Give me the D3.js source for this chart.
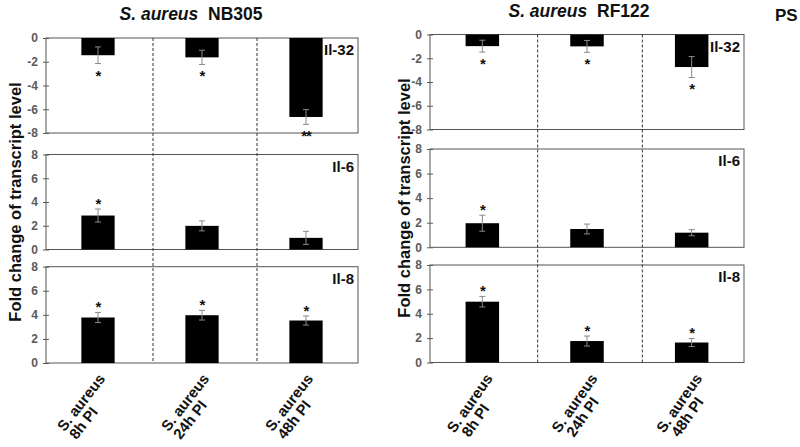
<!DOCTYPE html>
<html>
<head>
<meta charset="utf-8">
<script src="https://cdn.jsdelivr.net/npm/d3@7"></script>
<style>
  html, body { margin: 0; padding: 0; background: #fff; }
  svg { display: block; font-family: "Liberation Sans", Arial, sans-serif; }
</style>
</head>
<body>
<svg id="chart" width="800" height="447"></svg>
<script>
// ---------------- DATA ----------------
const categories = ["8h PI", "24h PI", "48h PI"];
const categoryPrefix = "S. aureus";
const strains = ["NB305", "RF122"];
const genes = ["Il-32", "Il-6", "Il-8"];
const ticksNeg = [0, -2, -4, -6, -8];
const ticksPos = [0, 2, 4, 6, 8];

const nb305_il32 = [-1.45, -1.63, -6.65];
const nb305_il32_err = [0.70, 0.60, 0.62];
const nb305_il32_sig = ["*", "*", "**"];
const nb305_il6 = [2.86, 1.99, 0.98];
const nb305_il6_err = [0.55, 0.42, 0.55];
const nb305_il6_sig = ["*", "", ""];
const nb305_il8 = [3.78, 3.97, 3.53];
const nb305_il8_err = [0.42, 0.40, 0.38];
const nb305_il8_sig = ["*", "*", "*"];

const rf122_il32 = [-0.98, -1.00, -2.74];
const rf122_il32_err = [0.50, 0.50, 0.88];
const rf122_il32_sig = ["*", "*", "*"];
const rf122_il6 = [1.96, 1.49, 1.19];
const rf122_il6_err = [0.65, 0.40, 0.25];
const rf122_il6_sig = ["*", "", ""];
const rf122_il8 = [4.99, 1.76, 1.64];
const rf122_il8_err = [0.43, 0.41, 0.33];
const rf122_il8_sig = ["*", "*", "*"];

// ---------------- LAYOUT ----------------
const charts = [
  { strain: strains[0], x0: 46, x1: 358,
    panels: [[38, 133], [154.5, 249.5], [266.7, 363]],
    titleX: 191, titleY: 20, yTitleX: 21, yTitleY: 202,
    angle: -52, lx: 8, ly: 16, l2x: 1, l2y: 14.5,
    series: [
      [nb305_il32, nb305_il32_err, nb305_il32_sig],
      [nb305_il6, nb305_il6_err, nb305_il6_sig],
      [nb305_il8, nb305_il8_err, nb305_il8_sig]] },
  { strain: strains[1], x0: 430, x1: 744,
    panels: [[34.5, 129.5], [149, 247.3], [265, 362.5]],
    titleX: 579, titleY: 17, yTitleX: 410, yTitleY: 198,
    angle: -55, lx: 11, ly: 16, l2x: 5, l2y: 14.5,
    series: [
      [rf122_il32, rf122_il32_err, rf122_il32_sig],
      [rf122_il6, rf122_il6_err, rf122_il6_sig],
      [rf122_il8, rf122_il8_err, rf122_il8_sig]] }
];

const svg = d3.select("#chart");
const axisColor = "#555";
const tickColor = "#5a5a5a";

charts.forEach(ch => {
  const g = svg.append("g");
  const x = d3.scaleBand().domain(categories).range([ch.x0, ch.x1])
    .paddingInner(0.68).paddingOuter(0.34);
  const step = x.step();

  // Title
  const t = g.append("text").attr("x", ch.titleX).attr("y", ch.titleY)
    .attr("text-anchor", "middle").attr("font-size", 17.5).attr("font-weight", "bold")
    .attr("fill", "#111");
  t.append("tspan").attr("font-style", "italic").text(categoryPrefix);
  t.append("tspan").text("\u00a0 " + ch.strain);

  // Y axis title
  g.append("text")
    .attr("transform", `translate(${ch.yTitleX},${ch.yTitleY}) rotate(-90)`)
    .attr("text-anchor", "middle").attr("font-size", 16.5).attr("font-weight", "bold")
    .attr("fill", "#111").text("Fold change of transcript level");

  ch.panels.forEach((p, pi) => {
    const neg = pi === 0;
    const ticks = neg ? ticksNeg : ticksPos;
    const y = d3.scaleLinear().domain(neg ? [-8, 0] : [0, 8]).range([p[1], p[0]]);
    const [vals, errs, sig] = ch.series[pi];

    // frame
    g.append("rect").attr("x", ch.x0).attr("y", p[0])
      .attr("width", ch.x1 - ch.x0).attr("height", p[1] - p[0])
      .attr("fill", "none").attr("stroke", axisColor).attr("stroke-width", 1);

    // axis
    const axis = d3.axisLeft(y).tickValues(ticks).tickSize(3)
      .tickFormat(d3.format("d"));
    const ag = g.append("g").attr("transform", `translate(${ch.x0},0)`).call(axis);
    ag.select(".domain").remove();
    ag.selectAll(".tick line").attr("x1", -3).attr("x2", 3).attr("stroke", tickColor);
    ag.selectAll(".tick text").attr("x", -8).attr("font-size", 12)
      .attr("font-weight", "bold").attr("fill", tickColor)
      .attr("font-family", "Liberation Sans, Arial, sans-serif")
      .text(d => d < 0 ? "-" + Math.abs(d) : d);

    // bars
    g.selectAll(null).data(vals).enter().append("rect")
      .attr("x", (d, i) => x(categories[i]))
      .attr("width", x.bandwidth())
      .attr("y", d => Math.min(y(0), y(d)))
      .attr("height", d => Math.abs(y(d) - y(0)))
      .attr("fill", "#000");

    // error bars
    const cap = 3;
    vals.forEach((v, i) => {
      const cx = x(categories[i]) + x.bandwidth() / 2;
      const hi = y(v + errs[i]), lo = y(v - errs[i]);
      const eg = g.append("g").attr("stroke", "#8a8a8a").attr("stroke-width", 1);
      eg.append("line").attr("x1", cx).attr("x2", cx).attr("y1", hi).attr("y2", lo);
      eg.append("line").attr("x1", cx - cap).attr("x2", cx + cap).attr("y1", hi).attr("y2", hi);
      eg.append("line").attr("x1", cx - cap).attr("x2", cx + cap).attr("y1", lo).attr("y2", lo);
      if (sig[i]) {
        const end = v < 0 ? y(v - errs[i]) + 9 : y(v + errs[i]) - 8;
        g.append("text").attr("x", cx).attr("y", end + 8)
          .attr("text-anchor", "middle").attr("font-size", 15).attr("font-weight", "bold")
          .attr("fill", "#111").attr("letter-spacing", -1).text(sig[i]);
      }
    });

    // gene label
    g.append("text").attr("x", ch.x1 - 4).attr("y", p[0] + 17)
      .attr("text-anchor", "end").attr("font-size", 15).attr("font-weight", "bold")
      .attr("fill", "#111").text(genes[pi]);
  });

  // dashed separators
  const top = ch.panels[0][0], bottom = ch.panels[2][1];
  categories.slice(1).forEach(c => {
    const xd = x(c) - (step - x.bandwidth()) / 2 + 3;
    g.append("line").attr("x1", xd).attr("x2", xd).attr("y1", top).attr("y2", bottom)
      .attr("stroke", "#333").attr("stroke-width", 1).attr("stroke-dasharray", "3,2");
  });

  // x labels
  categories.forEach(c => {
    const cx = x(c) + x.bandwidth() / 2;
    const lg = g.append("g")
      .attr("transform", `translate(${cx + ch.lx},${bottom + ch.ly}) rotate(${ch.angle})`);
    const l1 = lg.append("text").attr("x", 0).attr("y", 0)
      .attr("text-anchor", "end").attr("font-size", 15).attr("font-weight", "bold")
      .attr("fill", "#111").text(categoryPrefix);
    const len = l1.node().getComputedTextLength();
    lg.append("text").attr("x", -len + ch.l2x).attr("y", ch.l2y)
      .attr("text-anchor", "start").attr("font-size", 15).attr("font-weight", "bold")
      .attr("fill", "#111").text(c);
  });
});

// Cropped panel label at top right
svg.append("text").attr("x", 775).attr("y", 21).attr("font-size", 17)
  .attr("font-weight", "bold").attr("fill", "#111").text("PS");
</script>
</body>
</html>
